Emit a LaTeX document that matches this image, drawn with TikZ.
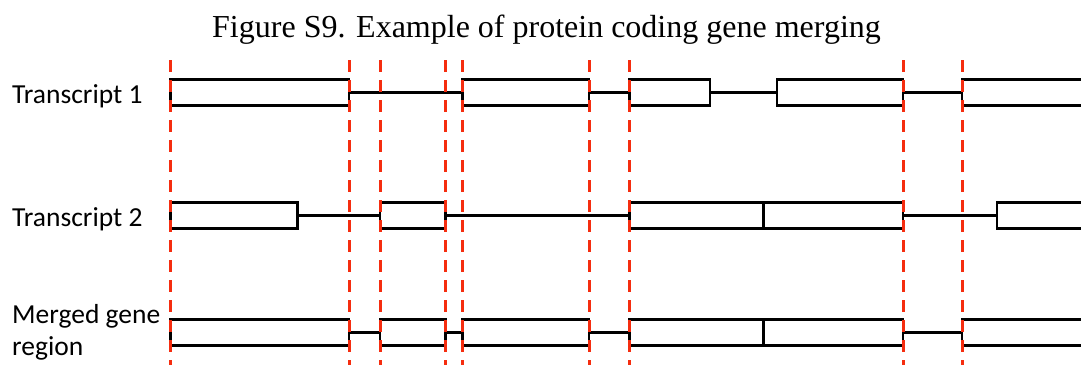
\documentclass[tikz,border=0pt]{standalone}
\usepackage{fontspec}
\setmainfont{Liberation Serif}
\newfontfamily\labfont{Carlito}
\usetikzlibrary{fit}
\definecolor{guidered}{RGB}{245,45,15}
\tikzset{
  exon/.style={draw=black, line width=2.7pt, inner sep=0pt, outer sep=0pt},
  intron/.style={draw=black, line width=2.7pt},
  guide/.style={draw=guidered, line width=3pt, dash pattern=on 11.5pt off 8.5pt},
  rowlabel/.style={font=\labfont\fontsize{27.5}{32}\selectfont, anchor=base west, inner sep=0pt},
  titletext/.style={font=\fontsize{32}{36}\selectfont, anchor=base, inner sep=0pt}
}
\begin{document}
\begin{tikzpicture}[x=1pt, y=-1pt]
\clip (0,0) rectangle (1081,364);
\fill[white] (0,0) rectangle (1081,364);

\node[titletext] (title) at (546.5,37) {Figure S9. Example of protein coding gene merging};

\node[rowlabel] (lab1) at (12,103.3) {Transcript 1};
\node[rowlabel] (lab2) at (12,226) {Transcript 2};
\node[rowlabel] (lab3a) at (12,323.3) {Merged gene};
\node[rowlabel] (lab3b) at (12,355.3) {region};

% Transcript 1
\node[exon, fit={(170.5,79.5)(349,105.5)}] (t1a) {};
\node[exon, fit={(462.5,79.5)(589,105.5)}] (t1b) {};
\node[exon, fit={(629.5,79.5)(710,105.5)}] (t1c) {};
\node[exon, fit={(777,79.5)(903,105.5)}] (t1d) {};
\node[exon, fit={(962,79.5)(1095,105.5)}] (t1e) {};
\draw[intron] (t1a.east) -- (t1b.west);
\draw[intron] (t1b.east) -- (t1c.west);
\draw[intron] (t1c.east) -- (t1d.west);
\draw[intron] (t1d.east) -- (t1e.west);

% Transcript 2
\node[exon, fit={(170.5,202.5)(297.5,228.5)}] (t2a) {};
\node[exon, fit={(380,202.5)(445.5,228.5)}] (t2b) {};
\node[exon, fit={(629.5,202.5)(763.5,228.5)}] (t2c) {};
\node[exon, fit={(763.5,202.5)(903,228.5)}] (t2d) {};
\node[exon, fit={(997,202.5)(1095,228.5)}] (t2e) {};
\draw[intron] (t2a.east) -- (t2b.west);
\draw[intron] (t2b.east) -- (t2c.west);
\draw[intron] (t2d.east) -- (t2e.west);

% Merged gene region
\node[exon, fit={(170.5,319.5)(349,345.5)}] (m1) {};
\node[exon, fit={(380,319.5)(445.5,345.5)}] (m2) {};
\node[exon, fit={(462.5,319.5)(589,345.5)}] (m3) {};
\node[exon, fit={(629.5,319.5)(763.5,345.5)}] (m4) {};
\node[exon, fit={(763.5,319.5)(903,345.5)}] (m5) {};
\node[exon, fit={(962,319.5)(1095,345.5)}] (m6) {};
\draw[intron] (m1.east) -- (m2.west);
\draw[intron] (m2.east) -- (m3.west);
\draw[intron] (m3.east) -- (m4.west);
\draw[intron] (m5.east) -- (m6.west);

% boundary guides
\foreach \gx in {170.5,349,380,445.5,462.5,589,629.5,903,962}
  \draw[guide] (\gx,60) -- (\gx,366);
\end{tikzpicture}
\end{document}
